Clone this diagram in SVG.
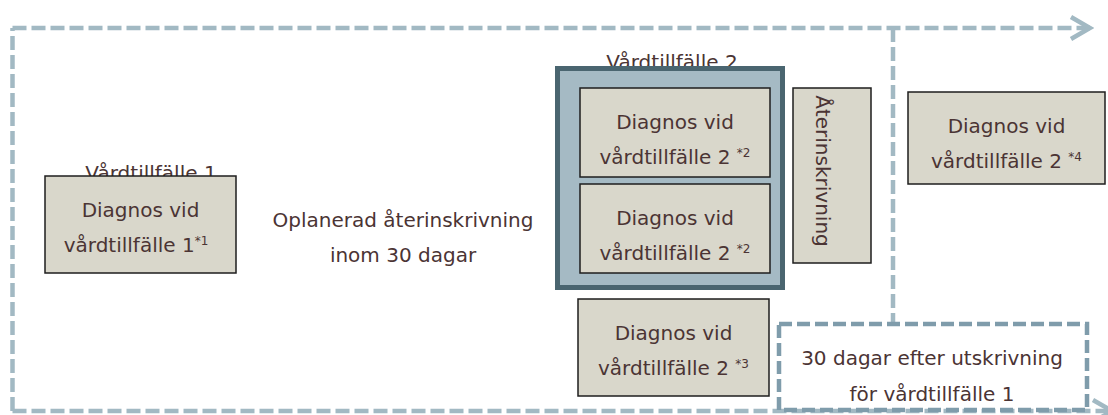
<svg xmlns="http://www.w3.org/2000/svg" width="1108" height="415" viewBox="0 0 1108 415">
  <defs>
    <style>
      .t { font-family: "DejaVu Sans", "Liberation Sans", sans-serif; font-size: 20px; fill: #4b3434; text-anchor: middle; }
      .sup { font-size: 12px; }
      .box { fill: #d9d7cb; stroke: #1e1e1e; stroke-width: 1.5; }
      .dash { fill: none; stroke: #a2b9c3; stroke-width: 4.5; stroke-dasharray: 14 5; }
      .dbox { fill: none; stroke: #7f9cab; stroke-width: 4.5; stroke-dasharray: 13 5; }
    </style>
    <marker id="chev" markerUnits="userSpaceOnUse" viewBox="-24 -14 28 28" markerWidth="28" markerHeight="28" refX="0" refY="0" orient="auto">
      <path d="M-19,-11 L0,0 L-19,11" fill="none" stroke="#a2b9c3" stroke-width="4.5" stroke-linecap="butt" stroke-linejoin="miter"/>
    </marker>
  </defs>
  <rect width="1108" height="415" fill="#ffffff"/>

  <g id="connectors">
    <path class="dash" d="M12.5,411 V28"/>
    <path class="dash" d="M12.5,28 H1090" marker-end="url(#chev)"/>
    <path class="dash" d="M12.5,411 H1112" marker-end="url(#chev)"/>
    <path class="dash" d="M893,28 V324"/>
  </g>

  <g id="vardtillfalle1">
    <text class="t" x="151" y="180">Vårdtillfälle 1</text>
    <rect class="box" x="45" y="176" width="191" height="97"/>
    <text class="t" x="140.5" y="217">Diagnos vid</text>
    <text class="t" x="136" y="252">vårdtillfälle 1<tspan class="sup" dy="-7">*1</tspan></text>
  </g>

  <g id="oplanerad">
    <text class="t" x="403" y="227">Oplanerad återinskrivning</text>
    <text class="t" x="403" y="262">inom 30 dagar</text>
  </g>

  <g id="vardtillfalle2">
    <text class="t" x="672" y="69">Vårdtillfälle 2</text>
    <rect x="557.5" y="68.5" width="225" height="219" fill="#a5bac4" stroke="#4a6570" stroke-width="5"/>
  </g>

  <g id="diagnos2a">
    <rect class="box" x="580" y="88" width="190" height="89"/>
    <text class="t" x="675" y="129">Diagnos vid</text>
    <text class="t" x="675" y="164">vårdtillfälle 2 <tspan class="sup" dy="-7">*2</tspan></text>
  </g>

  <g id="diagnos2b">
    <rect class="box" x="580" y="184" width="190" height="89"/>
    <text class="t" x="675" y="225">Diagnos vid</text>
    <text class="t" x="675" y="260">vårdtillfälle 2 <tspan class="sup" dy="-7">*2</tspan></text>
  </g>

  <g id="aterinskrivning">
    <rect class="box" x="793" y="88" width="78" height="175"/>
    <text class="t" transform="translate(816,171) rotate(90)" x="0" y="0">Återinskrivning</text>
  </g>

  <g id="diagnos3">
    <rect class="box" x="578" y="299" width="191" height="97"/>
    <text class="t" x="673.5" y="340">Diagnos vid</text>
    <text class="t" x="673.5" y="375">vårdtillfälle 2 <tspan class="sup" dy="-7">*3</tspan></text>
  </g>

  <g id="diagnos4">
    <rect class="box" x="908" y="92" width="197" height="92"/>
    <text class="t" x="1006.5" y="133">Diagnos vid</text>
    <text class="t" x="1006.5" y="168">vårdtillfälle 2 <tspan class="sup" dy="-7">*4</tspan></text>
  </g>

  <g id="trettio-dagar">
    <rect class="dbox" x="779" y="324" width="308" height="86"/>
    <text class="t" x="932" y="365">30 dagar efter utskrivning</text>
    <text class="t" x="932" y="401">för vårdtillfälle 1</text>
  </g>
</svg>
